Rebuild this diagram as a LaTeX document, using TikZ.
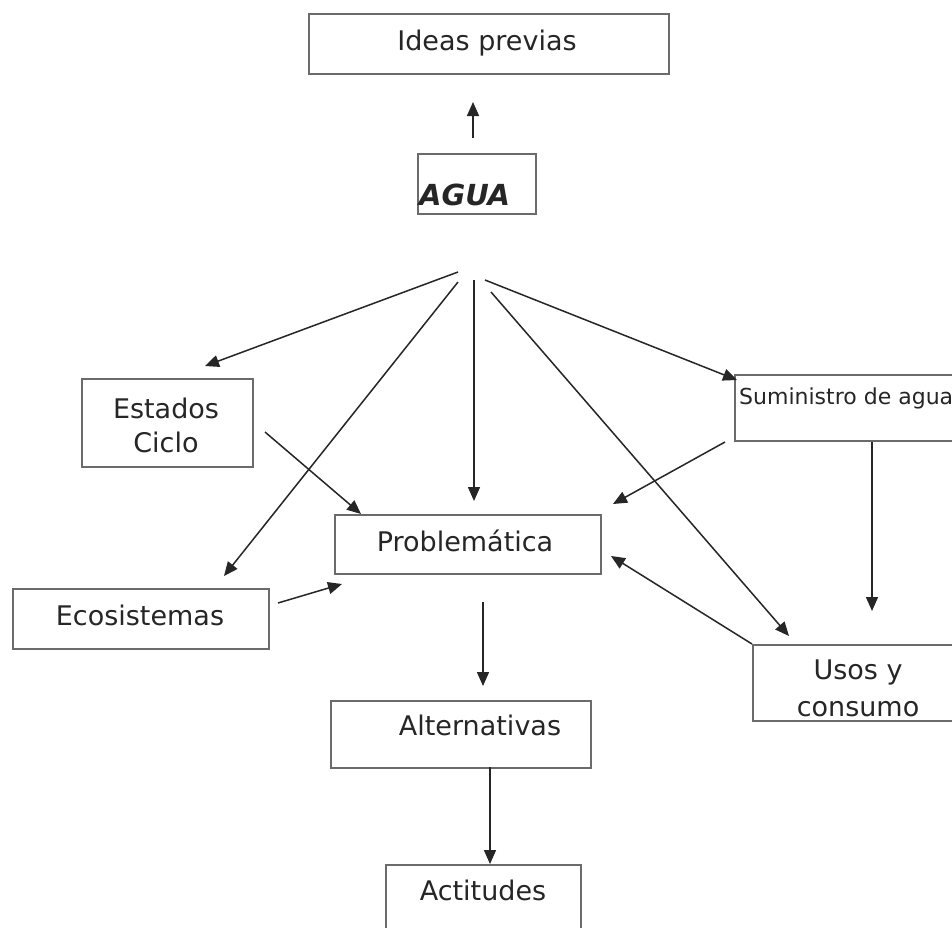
\documentclass[tikz,border=0pt]{standalone}
\usepackage{fontspec}
\setmainfont{DejaVu Sans}
\usetikzlibrary{arrows.meta}
\definecolor{boxcol}{gray}{0.42}
\definecolor{arrcol}{gray}{0.15}
\tikzset{
  box/.style={draw=boxcol, line width=1.8pt, rectangle, inner sep=0pt, anchor=north west},
  lbl/.style={inner sep=0pt, font=\fontsize{27}{32}\selectfont, text=black!85},
  arr/.style={draw=arrcol, line width=1.5pt, -{Triangle[length=14pt,width=12pt]}},
}
\begin{document}
\begin{tikzpicture}[x=1pt,y=-1pt]
\useasboundingbox (0,0) rectangle (952,927);
\clip (0,0) rectangle (952,927);
\fill[white] (0,0) rectangle (952,927);
% boxes
\node[box, minimum width=360pt, minimum height=60pt] (ideas) at (308,13) {};
\node[lbl] (ideast) at (487,43) {Ideas previas};
\node[box, minimum width=118pt, minimum height=60pt] (agua) at (417,153) {};
\node[lbl, font=\fontsize{29}{32}\selectfont\bfseries\itshape, anchor=base west] (aguat) at (419,205) {AGUA};
\node[box, minimum width=171pt, minimum height=88pt] (est) at (81,378) {};
\node[lbl, align=center, font=\fontsize{27}{34}\selectfont] (estt) at (166,425) {Estados\\Ciclo};
\node[box, minimum width=266pt, minimum height=59pt] (prob) at (334,514) {};
\node[lbl] (probt) at (465,541) {Problemática};
\node[box, minimum width=256pt, minimum height=60pt] (eco) at (12,588) {};
\node[lbl] (ecot) at (140,615) {Ecosistemas};
\node[box, minimum width=260pt, minimum height=66pt] (sum) at (734,374) {};
\node[lbl, anchor=base west, font=\fontsize{22}{26}\selectfont] (sumt) at (739,404) {Suministro de agua};
\node[box, minimum width=240pt, minimum height=76pt] (usos) at (752,644) {};
\node[lbl, align=center, font=\fontsize{27}{37}\selectfont] (usost) at (858,688) {Usos y\\consumo};
\node[box, minimum width=260pt, minimum height=67pt] (alt) at (330,700) {};
\node[lbl] (altt) at (480,725) {Alternativas};
\node[box, minimum width=195pt, minimum height=80pt] (act) at (385,864) {};
\node[lbl] (actt) at (483,890) {Actitudes};
% free end coordinates
\coordinate (a0) at (473,138);
\coordinate (a1) at (473,102);
\coordinate (h1) at (458,272);
\coordinate (t1) at (205,366);
\coordinate (h2) at (458,282);
\coordinate (t2) at (224,576);
\coordinate (h3) at (474,280);
\coordinate (t3) at (474,501);
\coordinate (h4) at (491,292);
\coordinate (t4) at (789,636);
\coordinate (h5) at (485,280);
\coordinate (t5) at (737,380);
\coordinate (e1) at (265,432);
\coordinate (e2) at (361,514);
\coordinate (c1) at (278,603);
\coordinate (c2) at (342,584);
\coordinate (s1) at (725,442);
\coordinate (s2) at (613,504);
\coordinate (s3) at (872,442);
\coordinate (s4) at (872,611);
\coordinate (u1) at (752,644);
\coordinate (u2) at (611,556);
\coordinate (p1) at (483,602);
\coordinate (p2) at (483,686);
\coordinate (l1) at (490,767);
\coordinate (l2) at (490,864);
% arrows
\draw[arr] (a0) -- (a1);
\draw[arr] (h1) -- (t1);
\draw[arr] (h2) -- (t2);
\draw[arr] (h3) -- (t3);
\draw[arr] (h4) -- (t4);
\draw[arr] (h5) -- (t5);
\draw[arr] (e1) -- (e2);
\draw[arr] (c1) -- (c2);
\draw[arr] (s1) -- (s2);
\draw[arr] (s3) -- (s4);
\draw[arr] (u1) -- (u2);
\draw[arr] (p1) -- (p2);
\draw[arr] (l1) -- (l2);
\end{tikzpicture}
\end{document}
